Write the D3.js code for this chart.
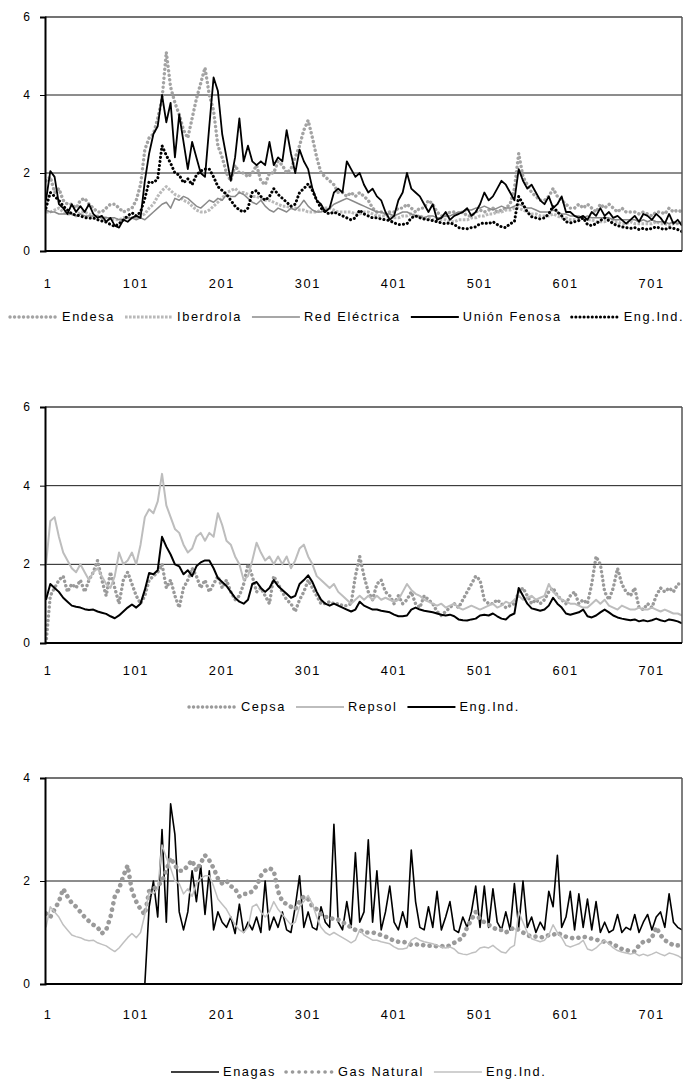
<!DOCTYPE html>
<html>
<head>
<meta charset="utf-8">
<script src="https://cdnjs.cloudflare.com/ajax/libs/d3/7.8.5/d3.min.js"></script>
<style>
  body { margin: 0; background: #fff; }
  svg text { font-family: "Liberation Sans", Arial, sans-serif; font-size: 12.8px; letter-spacing: 1.6px; fill: #000; }
</style>
</head>
<body>
<script>
// x axis: trading day number, one value every 5 days
var xTicks = [1, 101, 201, 301, 401, 501, 601, 701];
var lastDay = 741;
var step = 5;

// --- top panel: electricity ---
var endesa = [
  1.8, 1.9, 1.5, 1.6, 1.3, 1.2, 1.2, 1.1, 1.3, 1.35,
  1.2, 1.1, 1.0, 1.0, 1.1, 1.2, 1.2, 1.1, 1.0, 1.05,
  1.1, 1.3, 1.7, 2.6, 2.9, 3.0, 3.4, 3.9, 5.1, 4.2,
  3.8, 3.5, 3.1, 2.9, 3.4, 3.9, 4.3, 4.7, 4.0, 3.6,
  2.7, 2.4, 2.0, 1.8, 2.2, 2.0, 2.0, 1.9, 2.0, 2.2,
  1.8, 1.7, 2.0, 2.0, 2.3, 2.2, 2.0, 2.1, 2.4, 2.7,
  3.1, 3.35, 2.9, 2.4, 2.0, 1.9, 1.8, 1.7, 1.5, 1.5,
  1.4, 1.5, 1.4, 1.5, 1.4, 1.3, 1.1, 1.0, 1.0, 0.95,
  1.0, 1.0, 1.1, 1.1, 1.2, 1.1, 1.0, 1.1, 1.1, 1.3,
  1.2, 1.0, 0.9, 0.9, 1.0, 1.0, 0.95, 1.0, 0.9, 0.9,
  1.0, 1.05, 1.0, 1.05, 1.1, 1.0, 1.05, 1.1, 1.2, 1.6,
  2.5, 1.9, 1.7, 1.5, 1.4, 1.3, 1.3, 1.4, 1.6, 1.4,
  1.3, 1.2, 1.1, 1.1, 1.2, 1.1, 1.2, 1.1, 1.0, 1.2,
  1.1, 1.2, 1.1, 1.0, 1.1, 1.0, 1.0, 1.0, 0.95, 1.0,
  0.95, 0.9, 1.0, 1.0, 0.95, 1.1, 1.0, 1.05, 1.0
];
var iberdrola = [
  1.0, 1.0, 1.05, 1.1, 1.0, 0.95, 0.95, 0.9, 1.0, 1.0,
  0.95, 0.9, 0.9, 0.85, 0.85, 0.8, 0.8, 0.8, 0.85, 0.85,
  0.85, 0.85, 0.9, 0.95, 1.1, 1.2, 1.4, 1.55, 1.65, 1.55,
  1.45, 1.4, 1.3, 1.25, 1.15, 1.05, 1.0, 1.0, 1.05, 1.15,
  1.25, 1.35, 1.5, 1.55, 1.6, 1.5, 1.5, 1.45, 1.4, 1.4,
  1.35, 1.3, 1.3, 1.25, 1.2, 1.15, 1.15, 1.1, 1.1, 1.05,
  1.05, 1.0, 1.0, 1.0, 1.05, 1.1, 1.1, 1.05, 1.0, 1.0,
  1.0, 1.0, 0.95, 0.95, 1.0, 1.0, 0.95, 0.9, 0.9, 0.9,
  0.9, 0.85, 0.85, 0.9, 0.9, 0.95, 0.9, 0.9, 0.85, 0.85,
  0.8, 0.8, 0.8, 0.8, 0.75, 0.75, 0.8, 0.8, 0.8, 0.85,
  0.85, 0.9, 0.9, 0.95, 0.95, 1.0, 1.0, 1.05, 1.05, 1.1,
  1.1, 1.05, 1.0, 0.95, 0.95, 0.9, 0.9, 0.9, 0.95, 0.9,
  0.85, 0.85, 0.8, 0.8, 0.8, 0.85, 0.8, 0.8, 0.75, 0.75,
  0.75, 0.8, 0.75, 0.75, 0.7, 0.7, 0.75, 0.7, 0.7, 0.7,
  0.7, 0.7, 0.75, 0.7, 0.7, 0.65, 0.7, 0.7, 0.7
];
var redElectrica = [
  1.05, 1.0, 1.0, 0.95, 0.95, 0.95, 0.95, 0.9, 0.95, 0.9,
  0.9, 0.9, 0.9, 0.85, 0.85, 0.85, 0.85, 0.8, 0.8, 0.85,
  0.85, 0.8, 0.85, 0.8, 0.9, 1.0, 1.1, 1.2, 1.25, 1.1,
  1.35, 1.3, 1.4, 1.35, 1.25, 1.15, 1.1, 1.2, 1.3, 1.25,
  1.35, 1.3, 1.45, 1.4, 1.4, 1.5, 1.45, 1.35, 1.25, 1.2,
  1.3, 1.15, 1.05, 1.0, 1.1, 1.05, 1.0, 1.1, 1.05, 1.15,
  1.3, 1.15, 1.05, 1.0, 1.0, 1.05, 1.1, 1.2, 1.25, 1.3,
  1.35, 1.3, 1.25, 1.2, 1.15, 1.1, 1.05, 1.0, 1.0, 0.95,
  0.95, 0.9, 0.95, 1.0, 1.0, 0.95, 0.9, 0.9, 0.85, 0.9,
  0.9, 0.85, 0.85, 0.9, 0.9, 0.95, 1.0, 1.0, 1.05, 1.05,
  1.1, 1.1, 1.15, 1.1, 1.05, 1.1, 1.15, 1.1, 1.1, 1.15,
  1.2, 1.15, 1.1, 1.1, 1.05, 1.0, 1.0, 1.0, 1.05, 1.0,
  0.95, 0.95, 0.9, 0.9, 0.9, 0.85, 0.9, 0.85, 0.85, 0.85,
  0.85, 0.85, 0.8, 0.8, 0.8, 0.8, 0.8, 0.8, 0.75, 0.8,
  0.75, 0.8, 0.75, 0.75, 0.75, 0.7, 0.75, 0.7, 0.75
];
var unionFenosa = [
  1.3, 2.05, 1.9, 1.2, 1.1, 0.95, 1.2, 1.0, 1.15, 1.0,
  1.2, 0.95, 0.85, 0.9, 0.75, 0.85, 0.65, 0.6, 0.8, 0.75,
  0.85, 0.9, 0.85, 1.8, 2.5, 3.0, 3.2, 4.0, 3.3, 3.8,
  2.4, 3.5, 2.8, 2.1, 2.8, 2.4, 2.0, 1.9, 3.2, 4.45,
  4.1, 3.0, 2.4, 1.8, 2.4, 3.4, 2.3, 2.7, 2.3, 2.2,
  2.3, 2.2, 2.8, 2.2, 2.4, 2.3, 3.1, 2.5, 2.0, 2.6,
  2.3, 2.1, 1.6, 1.3, 1.2, 1.0, 1.1, 1.5, 1.6, 1.5,
  2.3, 2.1, 1.9, 2.0, 1.7, 1.5, 1.6, 1.4, 1.3, 1.0,
  0.8, 0.9, 1.3, 1.5, 2.0, 1.6, 1.5, 1.4, 1.2, 1.0,
  1.2, 0.8, 0.85, 1.0, 0.8, 0.9, 0.95, 1.0, 1.1, 0.9,
  1.0, 1.2, 1.5, 1.3, 1.4, 1.6, 1.8, 1.7, 1.5, 1.3,
  2.1, 1.8, 1.6, 1.7, 1.5, 1.3, 1.2, 1.4, 1.1, 1.2,
  1.4, 1.0, 1.0, 0.9, 0.85, 0.9, 0.8, 1.0, 0.9, 1.1,
  0.9, 1.0, 0.85, 0.9, 0.8, 0.7, 0.8, 0.9, 0.75, 0.95,
  0.9, 0.8, 0.95, 0.85, 0.7, 0.95, 0.7, 0.8, 0.65
];
// industry index, shared by the three panels
var engInd = [
  1.1, 1.5, 1.4, 1.3, 1.15, 1.05, 0.95, 0.92, 0.9, 0.86,
  0.84, 0.85, 0.8, 0.77, 0.74, 0.68, 0.63, 0.7, 0.8, 0.9,
  0.98, 0.9, 1.0, 1.35, 1.78, 1.75, 1.85, 2.7, 2.45, 2.25,
  2.0, 1.95, 1.75, 1.85, 1.7, 1.95, 2.05, 2.1, 2.1, 1.9,
  1.65, 1.55, 1.45, 1.3, 1.15, 1.05, 1.0, 1.1, 1.5, 1.55,
  1.4, 1.3, 1.4, 1.6, 1.45, 1.35, 1.25, 1.15, 1.2, 1.5,
  1.6, 1.72, 1.55, 1.3, 1.1, 1.0, 0.95, 1.0, 0.95, 0.9,
  0.85, 0.8, 0.85, 1.05, 0.95, 0.9, 0.85, 0.85, 0.82, 0.8,
  0.78, 0.72, 0.68, 0.68, 0.7, 0.85, 0.9, 0.85, 0.82, 0.8,
  0.78, 0.75, 0.72, 0.7, 0.72, 0.68, 0.6, 0.58, 0.57, 0.6,
  0.62, 0.7, 0.72, 0.7, 0.75, 0.68, 0.62, 0.6, 0.7, 0.75,
  1.4, 1.2, 1.0, 0.88, 0.85, 0.82, 0.85, 0.95, 1.15, 1.0,
  0.9, 0.75, 0.72, 0.75, 0.78, 0.85, 0.68, 0.65, 0.7, 0.78,
  0.85, 0.78, 0.7, 0.65, 0.62, 0.6, 0.58, 0.6, 0.55, 0.58,
  0.55, 0.58, 0.62, 0.58, 0.55, 0.6, 0.58, 0.55, 0.5
];

// --- middle panel: oil ---
var cepsa = [
  0.0, 1.2, 1.4, 1.6, 1.7, 1.3, 1.5, 1.4, 1.6, 1.3,
  1.6, 1.8, 2.1, 1.6, 1.2, 1.8, 1.4, 1.0, 1.6, 1.8,
  1.5, 1.2, 1.0, 1.2, 1.6, 1.7, 1.8, 2.0, 1.4, 1.6,
  1.2, 0.9, 1.4, 1.6, 1.9, 1.7, 1.4, 1.6, 1.3, 1.5,
  1.7, 1.4, 1.6, 1.3, 1.1, 1.2, 1.5, 2.0, 1.7, 1.3,
  1.4, 1.2, 1.0, 1.7, 1.5, 1.3, 1.1, 1.0, 0.8, 1.1,
  1.3, 1.6, 1.4, 1.2, 1.0, 1.0, 1.05, 1.0, 1.0, 0.95,
  0.95, 1.0, 1.7, 2.2, 1.7, 1.3, 1.1, 1.5, 1.6, 1.3,
  1.2, 1.0, 1.2, 1.0, 1.1, 1.3, 1.0, 0.9, 1.2, 1.1,
  1.0, 0.8, 0.7, 0.8, 0.9, 1.0, 0.9, 1.1, 1.3, 1.5,
  1.7, 1.6, 1.1, 1.0, 1.0, 1.1, 1.0, 0.9, 0.95, 1.0,
  1.3, 1.4, 1.2, 1.0, 1.1, 1.0, 1.1, 1.3, 1.4, 1.2,
  1.1, 1.0, 1.2, 1.3, 1.0, 1.1, 1.0, 1.5, 2.2, 2.0,
  1.3, 1.1, 1.4, 1.9, 1.5, 1.3, 1.2, 1.4, 0.9, 0.85,
  1.0, 0.9, 1.2, 1.4, 1.3, 1.4, 1.3, 1.5, 1.5
];
var repsol = [
  2.0, 3.1, 3.2, 2.7, 2.3, 2.1, 1.9, 1.8, 2.0, 1.8,
  1.6, 1.8, 1.9, 1.7, 1.5, 1.4, 1.7, 2.3, 2.0, 2.1,
  2.3, 2.0, 2.5, 3.2, 3.4, 3.3, 3.6, 4.3, 3.5, 3.2,
  2.9, 2.8, 2.5, 2.3, 2.4, 2.7, 2.8, 2.6, 2.8, 2.7,
  3.3, 3.0, 2.6, 2.5, 2.2, 2.0, 1.6, 1.7, 2.1, 2.55,
  2.3, 2.1, 2.2, 2.0, 2.2, 2.0, 2.2, 1.9, 2.1, 2.4,
  2.5, 2.2, 2.0, 1.7, 1.6, 1.5, 1.4, 1.5, 1.3, 1.2,
  1.1, 1.0, 1.1, 1.2, 1.1, 1.2, 1.1, 1.2, 1.1, 1.15,
  1.1, 1.05, 1.1, 1.3, 1.5, 1.35, 1.25, 1.2, 1.1, 1.05,
  1.0, 0.95, 1.0, 0.9, 0.95, 1.0, 0.9, 0.85, 0.9, 0.95,
  0.9, 0.85, 0.9, 0.95, 1.0, 0.9, 0.95, 1.05, 1.0, 1.1,
  1.2, 1.1, 1.15, 1.2, 1.1, 1.15, 1.2, 1.5, 1.3, 1.2,
  1.1, 1.05, 1.0, 1.0, 0.95, 0.9, 0.9, 1.0, 1.1, 1.0,
  1.1, 0.95, 0.9, 0.85, 0.95, 0.9, 0.85, 0.85, 0.9, 0.85,
  0.85, 0.9, 0.85, 0.8, 0.85, 0.8, 0.75, 0.75, 0.7
];

// --- bottom panel: gas ---
var enagas = [
  0, 0, 0, 0, 0, 0, 0, 0, 0, 0,
  0, 0, 0, 0, 0, 0, 0, 0, 0, 0,
  0, 0, 0, 0, 1.5, 2.0, 1.3, 3.0, 1.2, 3.5,
  2.9, 1.4, 1.05, 1.4, 2.2, 1.6, 2.3, 1.35, 2.2, 1.05,
  1.4, 1.2, 1.1, 1.3, 0.98, 1.55, 1.0, 1.2, 1.05, 1.3,
  1.0, 2.0, 1.05, 1.3, 1.1, 1.4, 1.05, 1.0, 1.5, 2.1,
  1.1, 1.4, 1.1, 1.05, 1.5, 1.2, 1.1, 3.1, 1.2, 1.05,
  1.6, 1.1, 2.55, 1.2, 1.4, 2.8, 1.2, 2.2, 1.05, 1.4,
  1.9, 1.2, 1.05, 1.4, 1.1, 2.6, 1.6, 1.1, 1.05, 1.5,
  1.1, 1.8, 1.05, 1.3, 1.6, 1.05, 1.0, 1.3, 1.1, 1.4,
  1.9, 1.1, 1.9, 1.1, 1.85, 1.2, 1.05, 1.4, 1.05, 1.95,
  1.1, 2.0, 1.1, 1.3, 1.0, 1.2, 1.05, 1.8, 1.5, 2.5,
  1.1, 1.3, 1.8, 1.05, 1.75, 1.1, 1.65, 1.05, 1.6, 1.0,
  1.2, 1.0, 1.05, 1.35, 1.0, 1.1, 1.05, 1.35, 1.0, 1.2,
  1.35, 1.05, 1.3, 1.4, 1.1, 1.75, 1.2, 1.1, 1.05
];
var gasNatural = [
  1.37, 1.3, 1.45, 1.6, 1.85, 1.7, 1.57, 1.5, 1.4, 1.3,
  1.22, 1.15, 1.1, 0.98, 1.05, 1.3, 1.7, 1.85, 2.1, 2.3,
  1.8, 1.6, 1.45, 1.35, 1.8, 1.85, 1.9, 2.0, 2.2, 2.45,
  2.3, 2.2, 2.2, 2.3, 2.4, 2.2, 2.35, 2.5, 2.4, 2.25,
  2.05, 1.95, 2.0, 1.9, 1.85, 1.7, 1.75, 1.75, 1.8, 1.9,
  2.1, 2.2, 2.25, 2.2, 1.8, 1.6, 1.55, 1.5, 1.45, 1.6,
  1.7, 1.65, 1.5, 1.45, 1.35, 1.3, 1.3, 1.25, 1.25, 1.2,
  1.15, 1.1, 1.05, 1.05, 1.0, 1.0, 1.0, 0.98, 0.95, 0.92,
  0.88, 0.84, 0.82, 0.82, 0.8, 0.76, 0.76, 0.78, 0.75, 0.74,
  0.75, 0.73, 0.74, 0.72, 0.75, 0.8, 0.85, 0.9, 1.1, 1.25,
  1.4, 1.25, 1.2, 1.15, 1.1, 1.05, 1.05, 1.0, 1.05, 1.1,
  1.05, 1.0, 0.95, 0.92, 0.92, 0.9, 0.92, 0.95, 0.95, 1.0,
  0.95, 0.92, 0.9, 0.88, 0.9, 0.92, 0.9, 0.88, 0.86, 0.84,
  0.82, 0.8, 0.78, 0.72, 0.68, 0.66, 0.64, 0.63, 0.75, 0.82,
  0.82, 0.9, 1.1, 0.95, 0.85, 0.8, 0.75, 0.75, 0.75
];

var days = engInd.map(function(d, i) { return 1 + i * step; }); // day number of each value

var svg = d3.select("body").append("svg").attr("width", 684).attr("height", 1081);

var panels = [
  {top: 17, bottom: 251, yMax: 6, yTicks: [0, 2, 4, 6], labelY: 288, legendY: 321, legendX: 10,
   series: [
     {name: "Endesa", values: endesa, color: "#a3a3a3", width: 3.4, dash: "0.1,4.4", cap: "round"},
     {name: "Iberdrola", values: iberdrola, color: "#b9b9b9", width: 3, dash: "2.6,1.4", cap: "butt"},
     {name: "Red Eléctrica", values: redElectrica, color: "#8a8a8a", width: 1.5},
     {name: "Unión Fenosa", values: unionFenosa, color: "#000", width: 1.8},
     {name: "Eng.Ind.", values: engInd, color: "#000", width: 3, dash: "0.1,4", cap: "round"}
   ]},
  {top: 407, bottom: 643, yMax: 6, yTicks: [0, 2, 4, 6], labelY: 675, legendY: 711, legendX: 189,
   series: [
     {name: "Cepsa", values: cepsa, color: "#9a9a9a", width: 3.4, dash: "0.1,4.4", cap: "round"},
     {name: "Repsol", values: repsol, color: "#bdbdbd", width: 2},
     {name: "Eng.Ind.", values: engInd, color: "#000", width: 2}
   ]},
  {top: 778, bottom: 984, yMax: 4, yTicks: [0, 2, 4], labelY: 1019, legendY: 1076, legendX: 171,
   series: [
     {name: "Enagas", values: enagas, color: "#000", width: 1.6},
     {name: "Gas Natural", values: gasNatural, color: "#9a9a9a", width: 4.6, dash: "0.1,6.4", cap: "round"},
     {name: "Eng.Ind.", values: engInd, color: "#c0c0c0", width: 1.5}
   ]}
];

var left = 45, right = 682;

var x = d3.scaleLinear()
    .domain([1, lastDay])  // day 1 sits just inside the left axis
    .range([left + 1, right]);

panels.forEach(function(p, k) {
  var y = d3.scaleLinear().domain([0, p.yMax]).range([p.bottom, p.top]);
  var g = svg.append("g");

  // clip lines to the plot area
  g.append("clipPath").attr("id", "clip" + k)
    .append("rect").attr("x", left).attr("y", p.top - 6).attr("width", right - left).attr("height", p.bottom - p.top + 6);

  // gridlines
  g.selectAll(".grid").data(p.yTicks.filter(function(t) { return t > 0 && t < p.yMax; }))
    .enter().append("line")
      .attr("x1", left).attr("x2", right)
      .attr("y1", function(d) { return y(d); }).attr("y2", function(d) { return y(d); })
      .attr("stroke", "#1a1a1a").attr("stroke-width", 1);

  var line = d3.line()
      .x(function(d, i) { return x(days[i]); })
      .y(function(d) { return y(d); });

  var lines = g.append("g").attr("clip-path", "url(#clip" + k + ")");
  p.series.forEach(function(s) {
    lines.append("path")
      .datum(s.values)
      .attr("d", line)
      .attr("fill", "none")
      .attr("stroke", s.color)
      .attr("stroke-width", s.width)
      .attr("stroke-dasharray", s.dash || null)
      .attr("stroke-linecap", s.cap || "butt")
      .attr("stroke-linejoin", "round");
  });

  // plot box: grey top/right, black axes
  g.append("line").attr("x1", left).attr("x2", right).attr("y1", p.top).attr("y2", p.top)
    .attr("stroke", "#444").attr("stroke-width", 1.5);
  g.append("line").attr("x1", right).attr("x2", right).attr("y1", p.top).attr("y2", p.bottom)
    .attr("stroke", "#555").attr("stroke-width", 1.5);
  g.append("line").attr("x1", left).attr("x2", right).attr("y1", p.bottom).attr("y2", p.bottom)
    .attr("stroke", "#000").attr("stroke-width", 2);

  // y axis: ticks from d3, labels placed by hand a bit further left
  var yAxis = d3.axisLeft(y).tickValues(p.yTicks).tickFormat("").tickSize(5);
  var ya = g.append("g").attr("transform", "translate(" + left + ",0)").call(yAxis);
  ya.select(".domain").attr("stroke", "#000").attr("stroke-width", 2);
  ya.selectAll(".tick line").attr("stroke", "#000");

  g.selectAll(".yl").data(p.yTicks).enter().append("text")
    .attr("x", 30)
    .attr("y", function(d) { return y(d) + 4; })
    .attr("text-anchor", "end")
    .style("letter-spacing", "0px")
    .style("font-size", "12px")
    .text(function(d) { return d; });

  // day labels under the axis, no tick marks
  g.selectAll(".xl").data(xTicks).enter().append("text")
    .attr("x", function(d) { return x(d) + (d === 1 ? 2 : 4); })
    .attr("y", p.labelY)
    .attr("text-anchor", "middle")
    .text(function(d) { return d; });

  // legend, laid out left to right
  var lx = p.legendX;
  p.series.forEach(function(s) {
    g.append("line")
      .attr("x1", lx).attr("x2", lx + 48)
      .attr("y1", p.legendY - 4).attr("y2", p.legendY - 4)
      .attr("stroke", s.color)
      .attr("stroke-width", Math.min(s.width, 3.6))
      .attr("stroke-dasharray", s.dash || null)
      .attr("stroke-linecap", s.cap || "butt");
    var t = g.append("text").attr("x", lx + 52).attr("y", p.legendY).text(s.name);
    lx += 52 + t.node().getComputedTextLength() + 10;
  });
});
</script>
</body>
</html>
